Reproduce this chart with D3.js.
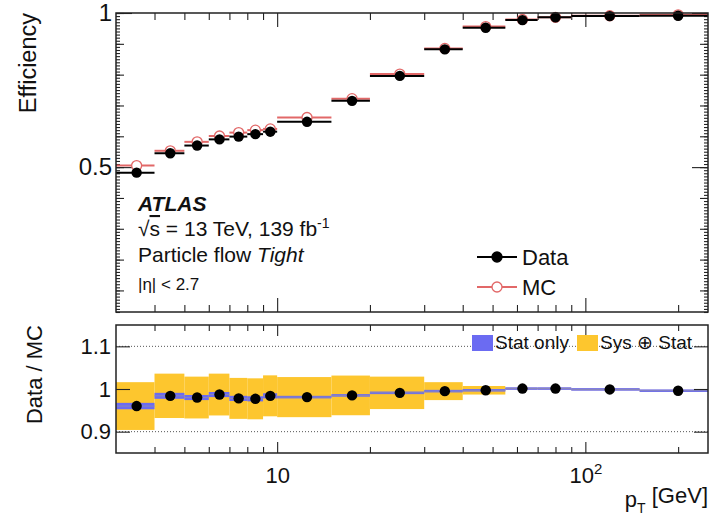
<!DOCTYPE html>
<html><head><meta charset="utf-8">
<script src="https://cdn.jsdelivr.net/npm/d3@7"></script>
<style>
html,body{margin:0;padding:0;background:#fff;}
svg{display:block;font-family:"Liberation Sans",Arial,Helvetica,sans-serif;}
</style></head>
<body>
<svg id="c" width="721" height="519"></svg>
<script>
// ---------------- data ----------------
const binEdges = [3,4,5,6,7,8,9,10,15,20,30,40,55,70,90,150,250];
const effData  = [0.482,0.545,0.570,0.590,0.599,0.607,0.615,0.647,0.715,0.796,0.882,0.952,0.977,0.986,0.990,0.991];
const effMC    = [0.505,0.553,0.582,0.601,0.612,0.620,0.624,0.661,0.722,0.802,0.885,0.956,0.979,0.986,0.991,0.994];
const ratio    = [0.960,0.984,0.980,0.987,0.978,0.977,0.984,0.981,0.985,0.991,0.995,0.997,1.001,1.001,0.999,0.996];
const statErr  = [0.0075,0.007,0.006,0.006,0.006,0.006,0.006,0.003,0.003,0.003,0.003,0.003,0.003,0.003,0.003,0.003];
const sysErr   = [0.056,0.052,0.049,0.049,0.048,0.048,0.048,0.047,0.0465,0.038,0.021,0.010,0.002,0.002,0.002,0.002];
const xMinor   = [4,5,6,7,8,9,20,30,40,50,60,70,80,90,200];
const xMajor   = [10,100];
const yTopMajor = [0.5,1.0];
const yRatioTicks = [0.9,1.0,1.1];
const yRatioGrid = [0.9,1.1];

const bins = effData.map((d,i)=>({lo:binEdges[i],hi:binEdges[i+1],c:(binEdges[i]+binEdges[i+1])/2,
  data:d,mc:effMC[i],r:ratio[i],st:statErr[i],sy:sysErr[i]}));

// ---------------- layout ----------------
const L=116,R=708, T1=13,B1=312, T2=325,B2=453;
const svg=d3.select("#c");
const x=d3.scaleLog().domain([3,250]).range([L,R]);
const yT=d3.scaleLinear().domain([0.03,1.0]).range([B1,T1]);
const yR=d3.scaleLinear().domain([0.85,1.15]).range([B2,T2]);
const txt="#111";
const MCcol="#e26868";

function clean(g){ g.select(".domain").remove(); g.selectAll("line").attr("stroke","#222").attr("stroke-width",1.1); g.selectAll("text").attr("fill",txt); return g; }

// ---------- top panel ----------
const topG=svg.append("g");
const yMinorVals=d3.range(3,101).map(v=>v/100);
const yMedVals=d3.range(1,11).map(v=>v/10).filter(v=>v>0.03);
[["left",L],["right",R]].forEach(([side,pos])=>{
  const mk=side==="left"?d3.axisLeft:d3.axisRight;
  clean(topG.append("g").attr("transform",`translate(${pos},0)`).call(mk(yT).tickValues(yMinorVals).tickSizeInner(-4).tickSizeOuter(0).tickFormat("")));
  clean(topG.append("g").attr("transform",`translate(${pos},0)`).call(mk(yT).tickValues(yMedVals).tickSizeInner(-8).tickSizeOuter(0).tickFormat("")));
  const g=clean(topG.append("g").attr("transform",`translate(${pos},0)`).call(mk(yT).tickValues(yTopMajor).tickSizeInner(-16).tickSizeOuter(0).tickPadding(4)
     .tickFormat(side==="left"?(d=>d===1?"1":d3.format(".1f")(d)):"")));
  g.selectAll("text").attr("font-size",24);
});
[[d3.axisBottom,B1],[d3.axisTop,T1]].forEach(([mk,pos])=>{
  clean(topG.append("g").attr("transform",`translate(0,${pos})`).call(mk(x).tickValues(xMinor).tickSizeInner(-7).tickSizeOuter(0).tickFormat("")));
  clean(topG.append("g").attr("transform",`translate(0,${pos})`).call(mk(x).tickValues(xMajor).tickSizeInner(-14).tickSizeOuter(0).tickFormat("")));
});
// MC markers
topG.append("g").selectAll("line").data(bins).join("line")
  .attr("x1",d=>x(d.lo)).attr("x2",d=>x(d.hi)).attr("y1",d=>yT(d.mc)).attr("y2",d=>yT(d.mc))
  .attr("stroke",MCcol).attr("stroke-width",2);
topG.append("g").selectAll("circle").data(bins).join("circle")
  .attr("cx",d=>x(d.c)).attr("cy",d=>yT(d.mc)).attr("r",5)
  .attr("fill","#fff").attr("stroke",MCcol).attr("stroke-width",1.3);
// data markers
topG.append("g").selectAll("line").data(bins).join("line")
  .attr("x1",d=>x(d.lo)).attr("x2",d=>x(d.hi)).attr("y1",d=>yT(d.data)).attr("y2",d=>yT(d.data))
  .attr("stroke","#000").attr("stroke-width",2);
topG.append("g").selectAll("circle").data(bins).join("circle")
  .attr("cx",d=>x(d.c)).attr("cy",d=>yT(d.data)).attr("r",5.2).attr("fill","#000");
topG.append("rect").attr("x",L).attr("y",T1).attr("width",R-L).attr("height",B1-T1)
  .attr("fill","none").attr("stroke","#222").attr("stroke-width",1.5);

svg.append("text").attr("transform",`translate(36,${T1}) rotate(-90)`).attr("text-anchor","end")
  .attr("font-size",23.5).attr("fill",txt).text("Efficiency");

// ATLAS label
const lab=svg.append("g").attr("fill",txt);
lab.append("text").attr("x",138).attr("y",211).attr("font-size",21).attr("font-weight","bold").attr("font-style","italic").text("ATLAS");
const t2=lab.append("text").attr("x",138).attr("y",236).attr("font-size",21);
t2.append("tspan").text("\u221A");
t2.append("tspan").attr("text-decoration","overline").text("s");
t2.append("tspan").text(" = 13 TeV, 139 fb");
t2.append("tspan").attr("font-size",14).attr("dy","-0.55em").text("-1");
const t3=lab.append("text").attr("x",138).attr("y",262).attr("font-size",21);
t3.append("tspan").text("Particle flow ");
t3.append("tspan").attr("font-style","italic").text("Tight");
lab.append("text").attr("x",138).attr("y",290).attr("font-size",17).text("|\u03B7| < 2.7");

// legend top
const leg=svg.append("g");
const legItems=[{name:"Data",col:"#000",fill:"#000",y:257},{name:"MC",col:MCcol,fill:"#fff",y:287}];
legItems.forEach(it=>{
  leg.append("line").attr("x1",477).attr("x2",517).attr("y1",it.y).attr("y2",it.y).attr("stroke",it.col).attr("stroke-width",2);
  leg.append("circle").attr("cx",497).attr("cy",it.y).attr("r",5).attr("fill",it.fill).attr("stroke",it.col).attr("stroke-width",1.3);
  leg.append("text").attr("x",522).attr("y",it.y+8).attr("font-size",22).attr("fill",txt).text(it.name);
});

// ---------- ratio panel ----------
const rp=svg.append("g");
rp.append("g").selectAll("line").data(yRatioGrid).join("line")
  .attr("x1",L).attr("x2",R).attr("y1",d=>yR(d)).attr("y2",d=>yR(d))
  .attr("stroke","#555").attr("stroke-width",1).attr("stroke-dasharray","1,2");
rp.append("g").selectAll("rect").data(bins).join("rect")
  .attr("x",d=>x(d.lo)).attr("width",d=>x(d.hi)-x(d.lo))
  .attr("y",d=>yR(d.r+d.sy)).attr("height",d=>yR(d.r-d.sy)-yR(d.r+d.sy))
  .attr("fill","#fdc62e");
rp.append("g").selectAll("rect").data(bins).join("rect")
  .attr("x",d=>x(d.lo)).attr("width",d=>x(d.hi)-x(d.lo))
  .attr("y",d=>yR(d.r+d.st)).attr("height",d=>yR(d.r-d.st)-yR(d.r+d.st))
  .attr("fill","#6b6bf2");
rp.append("g").selectAll("line").data(bins).join("line")
  .attr("x1",d=>x(d.lo)).attr("x2",d=>x(d.hi)).attr("y1",d=>yR(d.r)).attr("y2",d=>yR(d.r))
  .attr("stroke","#8a88b8").attr("stroke-width",1);
rp.append("g").selectAll("circle").data(bins).join("circle")
  .attr("cx",d=>x(d.c)).attr("cy",d=>yR(d.r)).attr("r",5.2).attr("fill","#000");

[["left",L],["right",R]].forEach(([side,pos])=>{
  const mk=side==="left"?d3.axisLeft:d3.axisRight;
  const g=clean(rp.append("g").attr("transform",`translate(${pos},0)`).call(mk(yR).tickValues(yRatioTicks).tickSizeInner(-14).tickSizeOuter(0).tickPadding(5)
    .tickFormat(side==="left"?(d=>d===1?"1":d3.format(".1f")(d)):"")));
  g.selectAll("text").attr("font-size",22);
});
[[d3.axisBottom,B2],[d3.axisTop,T2]].forEach(([mk,pos],k)=>{
  clean(rp.append("g").attr("transform",`translate(0,${pos})`).call(mk(x).tickValues(xMinor).tickSizeInner(-6).tickSizeOuter(0).tickFormat("")));
  const g=clean(rp.append("g").attr("transform",`translate(0,${pos})`).call(mk(x).tickValues(xMajor).tickSizeInner(-11).tickSizeOuter(0).tickPadding(14).tickFormat(d=>"")));
  if(k===0){
    g.selectAll("text").attr("font-size",22).each(function(d){
      const t=d3.select(this);
      if(d===10){ t.text("10"); }
      else { t.append("tspan").text("10"); t.append("tspan").attr("font-size",15).attr("dy","-0.55em").text("2"); }
    });
  }
});
rp.append("rect").attr("x",L).attr("y",T2).attr("width",R-L).attr("height",B2-T2)
  .attr("fill","none").attr("stroke","#222").attr("stroke-width",1.5);

// ratio legend
const rl=svg.append("g");
const rlItems=[{name:"Stat only",col:"#6b6bf2",x:472},{name:"Sys \u2295 Stat",col:"#fdc62e",x:577}];
rlItems.forEach(it=>{
  rl.append("rect").attr("x",it.x).attr("y",335).attr("width",21).attr("height",16).attr("fill",it.col);
  rl.append("text").attr("x",it.x+23).attr("y",349).attr("font-size",19).attr("fill",txt).text(it.name);
});

svg.append("text").attr("transform",`translate(42,${T2}) rotate(-90)`).attr("text-anchor","end")
  .attr("font-size",22).attr("fill",txt).text("Data / MC");

const xt=svg.append("text").attr("x",R).attr("y",507).attr("text-anchor","end").attr("font-size",22).attr("fill",txt);
xt.append("tspan").text("p");
xt.append("tspan").attr("font-size",14).attr("dy","0.45em").text("T");
xt.append("tspan").attr("dy","-0.45em").text(" [GeV]");
</script>
</body></html>
